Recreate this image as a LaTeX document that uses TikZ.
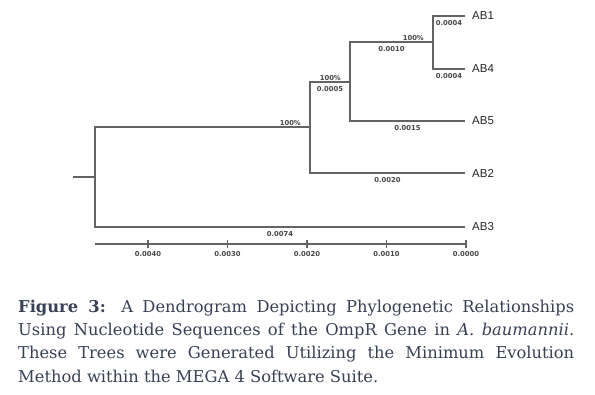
\documentclass[tikz,border=0pt]{standalone}
\usepackage{fontspec}
\setmainfont{DejaVu Serif}
\newfontfamily\taxafont{Liberation Sans}
\newfontfamily\valfont{DejaVu Sans}
\usetikzlibrary{positioning}
\definecolor{captext}{RGB}{55,64,84}
\definecolor{branch}{RGB}{100,100,100}
\definecolor{valtext}{RGB}{70,70,70}
\tikzset{
  edge/.style={draw=branch, line width=1.4pt},
  taxon/.style={inner sep=0pt, text=black!85, font=\taxafont\fontsize{11.5}{13}\selectfont},
  dist/.style={below, inner sep=0pt, yshift=-4pt, text=valtext, font=\valfont\bfseries\fontsize{6.8}{8}\selectfont},
  boot/.style={anchor=south east, inner sep=0pt, xshift=-9pt, yshift=1.5pt, text=valtext, font=\valfont\bfseries\fontsize{6.8}{8}\selectfont},
  caption/.style={anchor=base west, inner sep=0pt, text=captext, font=\fontsize{16.3}{23}\selectfont}
}
\begin{document}
\begin{tikzpicture}[x=1pt,y=-1pt]
      \useasboundingbox (0,0) rectangle (595,395);
      % tree points
      \coordinate (root) at (73,177);
      \coordinate (n1) at (95,177);
      \coordinate (n2) at (310,127);
      \coordinate (n3) at (350,82);
      \coordinate (n4) at (433,42);
      \coordinate (t1) at (465,16);
      \coordinate (t4) at (465,69);
      \coordinate (t5) at (465,121);
      \coordinate (t2) at (465,173);
      \coordinate (t3) at (465,227);
      % branches
      \draw[edge] (root) -- (n1);
      \draw[edge] (n1) |- (n2);
      \draw[edge] (n1) |- node[dist, pos=0.75] {0.0074} (t3);
      \draw[edge] (n2) |- node[dist, pos=0.75] {0.0005} (n3);
      \draw[edge] (n2) |- node[dist, pos=0.75] {0.0020} (t2);
      \draw[edge] (n3) |- node[dist, pos=0.75] {0.0010} (n4);
      \draw[edge] (n3) |- node[dist, pos=0.75] {0.0015} (t5);
      \draw[edge] (n4) |- node[dist, pos=0.75] {0.0004} (t1);
      \draw[edge] (n4) |- node[dist, pos=0.75] {0.0004} (t4);
      \node[boot] (bs2) at (n2) {100\%};
      \node[boot] (bs3) at (n3) {100\%};
      \node[boot] (bs4) at (n4) {100\%};
      \node[taxon, right=7pt of t1] (ab1) {AB1};
      \node[taxon, right=7pt of t4] (ab4) {AB4};
      \node[taxon, right=7pt of t5] (ab5) {AB5};
      \node[taxon, right=7pt of t2] (ab2) {AB2};
      \node[taxon, right=7pt of t3] (ab3) {AB3};
      % scale
      \coordinate (s0) at (95,244);
      \coordinate (s1) at (466,244);
      \draw[edge] (s0) -- (s1);
      \foreach \i/\v in {0/0.0000,1/0.0010,2/0.0020,3/0.0030,4/0.0040} {
        \coordinate (tk\i) at (466-79.5*\i,244);
        \draw[edge] ([yshift=3.7pt]tk\i) -- ([yshift=-3.7pt]tk\i);
        \node[dist, yshift=-3.7pt] (lb\i) at (tk\i) {\v};
      }
      % caption
      \node[caption] (cap1) at (18,312.3) {\makebox[556pt][s]{\textbf{Figure 3:} A Dendrogram Depicting Phylogenetic Relationships}};
      \node[caption] (cap2) at (18,335.7) {\makebox[556pt][s]{Using Nucleotide Sequences of the OmpR Gene in \textit{A. baumannii}.}};
      \node[caption] (cap3) at (18,359) {\makebox[556pt][s]{These Trees were Generated Utilizing the Minimum Evolution}};
      \node[caption] (cap4) at (18,382.3) {Method within the MEGA 4 Software Suite.};
\end{tikzpicture}
\end{document}
